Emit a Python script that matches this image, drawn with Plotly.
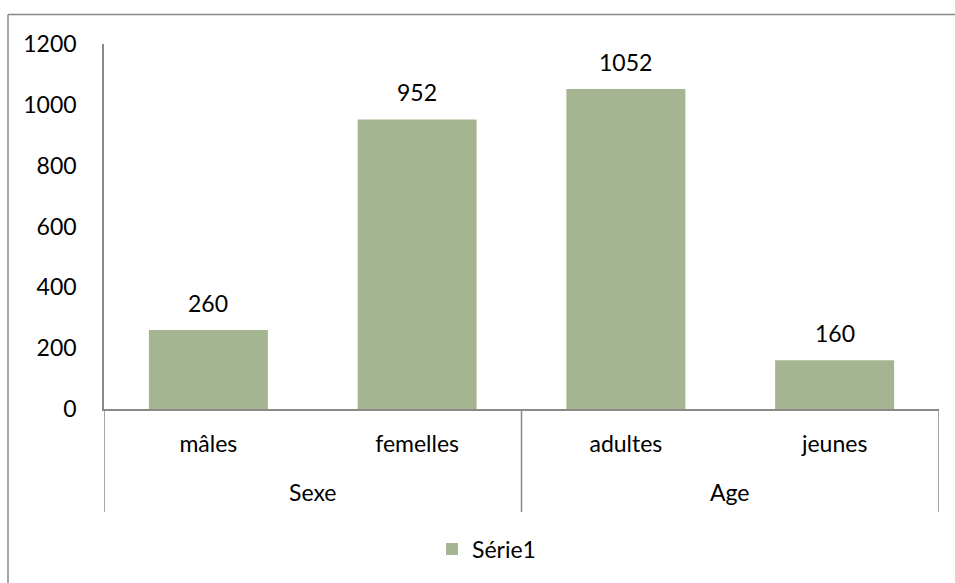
import plotly.graph_objects as go

categories = ["mâles", "femelles", "adultes", "jeunes"]
groups = ["Sexe", "Sexe", "Age", "Age"]
values = [260, 952, 1052, 160]
series_name = "Série1"
y_ticks = [0, 200, 400, 600, 800, 1000, 1200]

FONT = "Lato"
FS = 23
BAR = "#A5B592"
AX = "#898989"

W, H = 955, 583
L, R, T, B = 104, 16, 44, 174
ph = H - T - B
pw = W - L - R


def py(p):
    return (H - B - p) / ph


def px(p):
    return (p - L) / pw


fig = go.Figure()
fig.add_trace(go.Bar(
    x=list(range(len(categories))), y=values, name=series_name,
    marker=dict(color=BAR, line=dict(width=0)), width=0.57,
    showlegend=True,
))

# data labels
for i, v in enumerate(values):
    fig.add_annotation(x=i, y=v, text=str(v), showarrow=False, xref="x", yref="y",
                       yanchor="middle", yshift=27, font=dict(family=FONT, size=FS, color="#000"))

# group labels and dividers
uniq = []
for g in groups:
    if g not in uniq:
        uniq.append(g)
for g in uniq:
    idx = [i for i, gg in enumerate(groups) if gg == g]
    fig.add_annotation(x=sum(idx) / len(idx), y=py(492), xref="x", yref="paper", text=g,
                       showarrow=False, yanchor="middle", font=dict(family=FONT, size=FS, color="#000"))

bounds = [-0.5]
for i in range(1, len(groups)):
    if groups[i] != groups[i - 1]:
        bounds.append(i - 0.5)
bounds.append(len(groups) - 0.5)
for bx in bounds:
    fig.add_shape(type="line", xref="x", yref="paper", x0=bx, x1=bx, y0=0, y1=py(512),
                  line=dict(color=AX, width=1.5))

# outer chart border (left and top visible)
fig.add_shape(type="line", xref="paper", yref="paper", x0=px(8), x1=px(8), y0=py(14.5), y1=py(600),
              line=dict(color=AX, width=1.5))
fig.add_shape(type="line", xref="paper", yref="paper", x0=px(8), x1=px(970), y0=py(14.5), y1=py(14.5),
              line=dict(color=AX, width=1.5))

fig.update_layout(
    width=W, height=H,
    margin=dict(l=L, r=R, t=T, b=B, pad=0),
    paper_bgcolor="white", plot_bgcolor="white",
    font=dict(family=FONT, size=FS, color="#000"),
    bargap=0.43,
    legend=dict(orientation="h", x=px(432), xanchor="left", y=py(549), yanchor="middle",
                font=dict(family=FONT, size=FS, color="#000"), bgcolor="rgba(0,0,0,0)"),
    xaxis=dict(
        range=[-0.5, len(categories) - 0.5], tickmode="array",
        tickvals=list(range(len(categories))), ticktext=categories,
        showline=True, linecolor=AX, linewidth=1.5, showgrid=False, zeroline=False,
        ticks="", ticklabelstandoff=14, tickfont=dict(family=FONT, size=FS, color="#000"),
    ),
    yaxis=dict(
        range=[0, 1200], tickvals=y_ticks, showline=True, linecolor=AX, linewidth=1.5,
        showgrid=False, zeroline=False, ticks="", ticklabelstandoff=21,
        tickfont=dict(family=FONT, size=FS, color="#000"),
    ),
)

fig.write_html("out.html")
